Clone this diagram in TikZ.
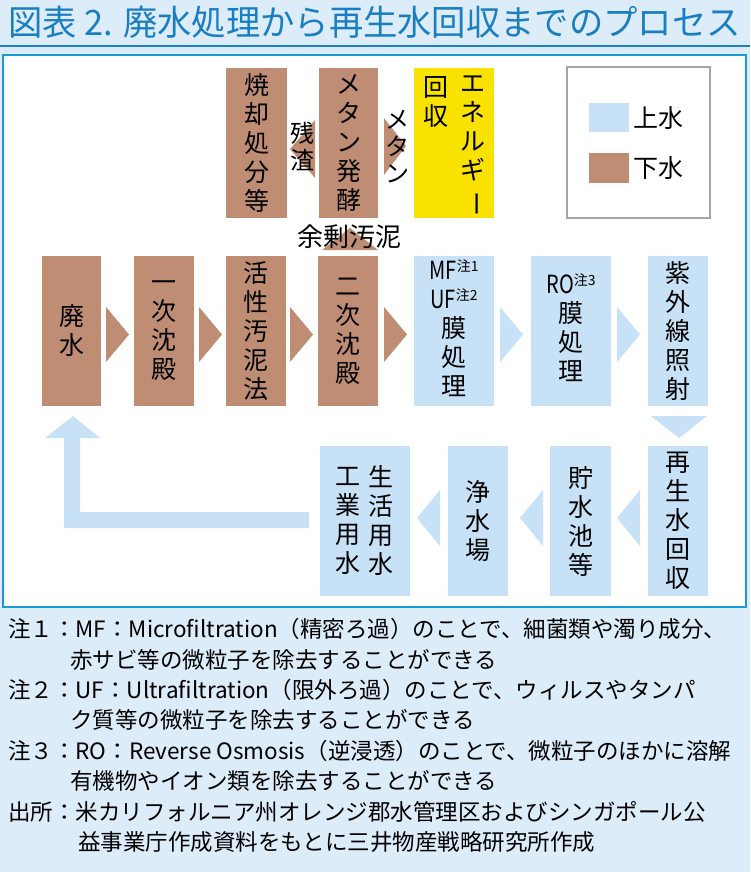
\documentclass[tikz,border=0pt]{standalone}
\usepackage{fontspec}
\setmainfont{Noto Sans CJK JP}
\usetikzlibrary{calc}
\definecolor{brn}{HTML}{BF8D74}
\definecolor{lb}{HTML}{C7E2F6}
\definecolor{yel}{HTML}{F9E100}
\definecolor{frm}{HTML}{1A9AD6}
\definecolor{bg}{HTML}{DCECF9}
\definecolor{ttl}{HTML}{1A7EC2}
\newcommand\jfs[2]{\fontsize{#1}{#2}\selectfont}
\newcommand\vbar{\rotatebox[origin=c]{-90}{ー}}
\begin{document}
\begin{tikzpicture}[x=1pt,y=-1pt,
  vt/.style={align=center,font=\jfs{25}{29},inner sep=0},
  lbl/.style={align=center,font=\jfs{24}{27},inner sep=0},
  note/.style={anchor=west,inner sep=0,font=\jfs{22.5}{24}}]
\useasboundingbox (0,0) rectangle (750,872);
\fill[bg] (0,0) rectangle (750,872);
\draw[ttl,line width=2] (0,46) -- (750,46);
\node[anchor=west,text=ttl,inner sep=0] (title) at (8,22) {\scalebox{0.98}[1]{\jfs{35}{36}図表 2. 廃水処理から再生水回収までのプロセス}};
\draw[frm,line width=2.5,fill=white] (3,55) rectangle (746,607);
% top row
\fill[brn] (226,68) rectangle (287,218);
\node[vt] (inc) at (256.5,143) {焼\\却\\処\\分\\等};
\fill[brn] (319,68) rectangle (378,218);
\node[vt] (met) at (348.5,143) {メ\\タ\\ン\\発\\酵};
\fill[yel] (414,68) rectangle (494,218);
\node[vt,anchor=north] (ene) at (473,76) {エ\\ネ\\ル\\ギ\\\vbar};
\node[vt,anchor=north] (rec) at (436,76) {回\\収};
% top arrows
\fill[brn] (315,120) -- (290,149) -- (315,178) -- cycle;
\node[lbl] (zan) at (302,147) {残\\渣};
\fill[brn] (384,118) -- (406,146) -- (384,175) -- cycle;
\node[lbl] (mtn) at (397,147) {メ\\タ\\ン};
\fill[brn] (322,250) -- (350,228) -- (378,250) -- cycle;
\node[inner sep=0,font=\jfs{26}{28}] (yojo) at (349,237) {余剰汚泥};
% legend
\draw[gray!70,line width=1.5,fill=white] (567,67) rectangle (710,218);
\fill[lb] (589,103) rectangle (629,132);
\node[anchor=west,inner sep=0,font=\jfs{25}{27}] (jo) at (633,118) {上水};
\fill[brn] (589,153) rectangle (629,183);
\node[anchor=west,inner sep=0,font=\jfs{25}{27}] (ge) at (633,168) {下水};
% main row
\fill[brn] (42,256) rectangle (101,406); \node[vt] (hai) at (71.5,331) {廃\\水};
\fill[brn] (134,256) rectangle (194,406); \node[vt] (ichi) at (164,331) {一\\次\\沈\\殿};
\fill[brn] (226,256) rectangle (286,406); \node[vt] (kas) at (256,331) {活\\性\\汚\\泥\\法};
\fill[brn] (318,256) rectangle (378,406); \node[vt] (ni) at (348,331) {二\\次\\沈\\殿};
\fill[lb] (414,256) rectangle (494,406);
\node[vt,anchor=north] (mf) at (454,260) {\scalebox{0.8}[1]{MF}{\jfs{14}{15}\raisebox{8pt}{注1}}\\\scalebox{0.8}[1]{UF}{\jfs{14}{15}\raisebox{8pt}{注2}}\\膜\\処\\理};
\fill[lb] (531,256) rectangle (611,406);
\node[vt] (ro) at (571,328) {\scalebox{0.8}[1]{RO}{\jfs{14}{15}\raisebox{8pt}{注3}}\\膜\\処\\理};
\fill[lb] (648,256) rectangle (708,406); \node[vt] (uv) at (678,331) {紫\\外\\線\\照\\射};
\foreach \a/\c in {106/brn,199/brn,290/brn,384/brn,500/lb,617/lb}
  \fill[\c] (\a,307) -- (\a+23,334.5) -- (\a,362) -- cycle;
\fill[lb] (651,416) -- (707,416) -- (679,438) -- cycle;
% bottom row
\fill[lb] (648,446) rectangle (708,596); \node[vt] (sai) at (678,521) {再\\生\\水\\回\\収};
\fill[lb] (550,446) rectangle (611,596); \node[vt] (cho) at (580.5,521) {貯\\水\\池\\等};
\fill[lb] (448,446) rectangle (508,596); \node[vt] (jou) at (478,521) {浄\\水\\場};
\fill[lb] (320,446) rectangle (410,596);
\node[vt] (sei) at (381,521) {生\\活\\用\\水};
\node[vt] (kou) at (348,521) {工\\業\\用\\水};
\foreach \a in {640,543,440}
  \fill[lb] (\a,490) -- (\a-23,518) -- (\a,546) -- cycle;
\fill[lb] (309,512) -- (80,512) -- (80,438) -- (100,438) -- (73,416) -- (45,438) -- (64,438) -- (64,528) -- (309,528) -- cycle;
% notes
\node[note] (n1) at (8,629) {注１：MF：Microfiltration（精密ろ過）のことで、細菌類や濁り成分、};
\node[note] (n1b) at (70,660) {赤サビ等の微粒子を除去することができる};
\node[note] (n2) at (8,690) {注２：UF：Ultrafiltration（限外ろ過）のことで、ウィルスやタンパ};
\node[note] (n2b) at (70,720) {ク質等の微粒子を除去することができる};
\node[note] (n3) at (8,751) {注３：RO：Reverse Osmosis（逆浸透）のことで、微粒子のほかに溶解};
\node[note] (n3b) at (70,781) {有機物やイオン類を除去することができる};
\node[note] (n4) at (8,812) {出所：米カリフォルニア州オレンジ郡水管理区およびシンガポール公};
\node[note] (n4b) at (78,842) {益事業庁作成資料をもとに三井物産戦略研究所作成};
\end{tikzpicture}
\end{document}
